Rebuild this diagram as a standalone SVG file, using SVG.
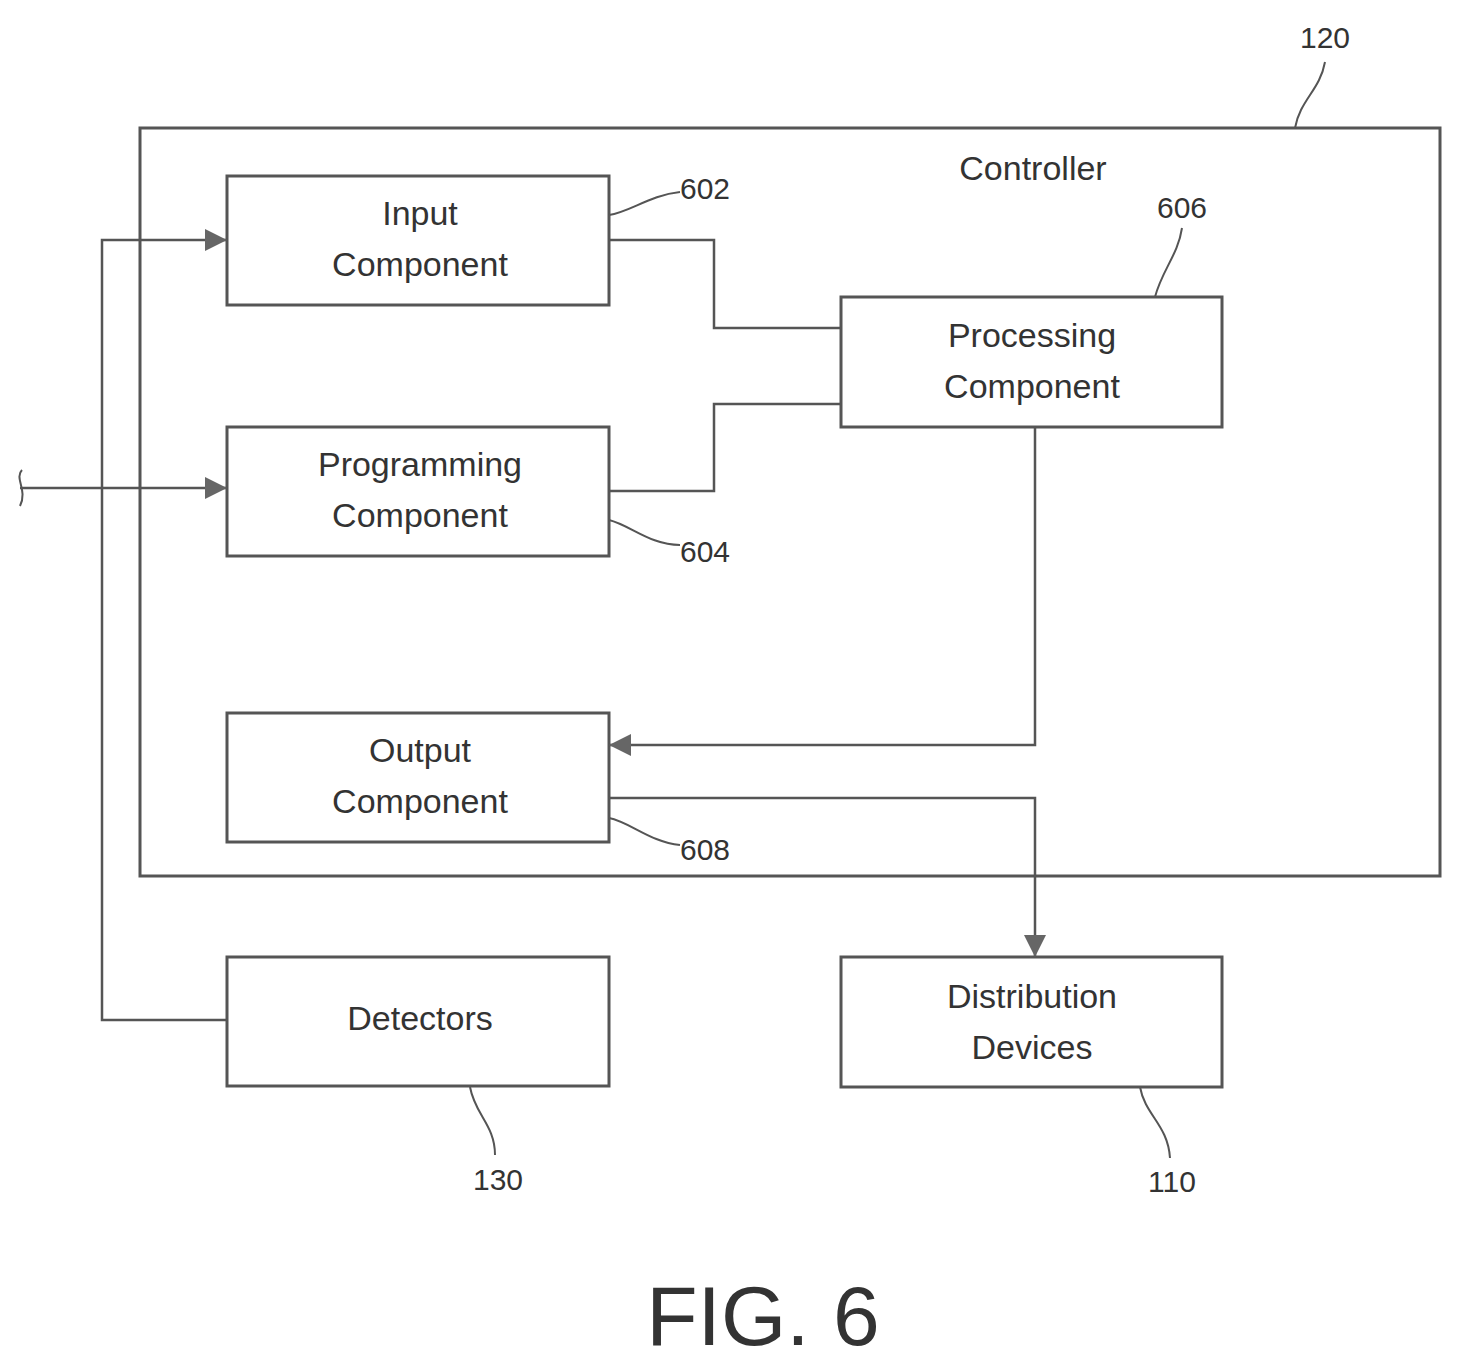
<svg xmlns="http://www.w3.org/2000/svg" width="1461" height="1368" viewBox="0 0 1461 1368">
<style>
.b{fill:none;stroke:#555;stroke-width:3}
.c{fill:none;stroke:#555;stroke-width:2.5}
.l{fill:none;stroke:#555;stroke-width:2}
text{font-family:"Liberation Sans",Arial,sans-serif;fill:#333;font-size:34px;text-anchor:middle}
.n{font-size:30px}
</style>
<defs><marker id="a" viewBox="0 0 10 10" refX="10" refY="5" markerWidth="12" markerHeight="12" markerUnits="userSpaceOnUse" orient="auto"><path d="M0,1L10,5L0,9z" fill="#666"/></marker>
<marker id="a2" viewBox="0 0 10 10" refX="10" refY="5" markerWidth="28" markerHeight="22" markerUnits="userSpaceOnUse" orient="auto"><path d="M0,0L10,5L0,10z" fill="#666"/></marker></defs>
<rect fill="#fff" width="1461" height="1368"/>
<g id="controller"><rect class="b" x="140" y="128" width="1300" height="748"/><text x="1033" y="180">Controller</text></g>
<g id="input"><rect class="b" x="227" y="176" width="382" height="129"/><text x="420" y="225">Input</text><text x="420" y="276">Component</text></g>
<g id="programming"><rect class="b" x="227" y="427" width="382" height="129"/><text x="420" y="476">Programming</text><text x="420" y="527">Component</text></g>
<g id="output"><rect class="b" x="227" y="713" width="382" height="129"/><text x="420" y="762">Output</text><text x="420" y="813">Component</text></g>
<g id="processing"><rect class="b" x="841" y="297" width="381" height="130"/><text x="1032" y="347">Processing</text><text x="1032" y="398">Component</text></g>
<g id="detectors"><rect class="b" x="227" y="957" width="382" height="129"/><text x="420" y="1030">Detectors</text></g>
<g id="distribution"><rect class="b" x="841" y="957" width="381" height="130"/><text x="1032" y="1008">Distribution</text><text x="1032" y="1059">Devices</text></g>
<g id="connectors">
<path class="c" d="M609,240H714V328H841"/>
<path class="c" d="M609,491H714V404H841"/>
<path class="c" d="M1035,427V745H609" marker-end="url(#a2)"/>
<path class="c" d="M609,798H1035V957" marker-end="url(#a2)"/>
<path class="c" d="M227,1020H102V240H227" marker-end="url(#a2)"/>
<path class="c" d="M20,488H227" marker-end="url(#a2)"/>
<path class="l" d="M22,470C14,478 28,490 20,506"/>
<path class="l" d="M1295,128C1300,100 1320,90 1325,62"/>
<path class="l" d="M609,215C630,212 650,195 680,192"/>
<path class="l" d="M1155,297C1162,270 1178,255 1182,228"/>
<path class="l" d="M609,520C630,525 650,545 680,545"/>
<path class="l" d="M609,818C630,822 650,842 680,845"/>
<path class="l" d="M470,1087C475,1115 495,1125 495,1155"/>
<path class="l" d="M1140,1087C1145,1115 1168,1125 1170,1158"/>
</g>
<g id="labels">
<text class="n" x="1325" y="48">120</text>
<text class="n" x="705" y="199">602</text>
<text class="n" x="1182" y="218">606</text>
<text class="n" x="705" y="562">604</text>
<text class="n" x="705" y="860">608</text>
<text class="n" x="498" y="1190">130</text>
<text class="n" x="1172" y="1192">110</text>
<text x="763" y="1345" style="font-size:84px">FIG. 6</text>
</g>
</svg>
